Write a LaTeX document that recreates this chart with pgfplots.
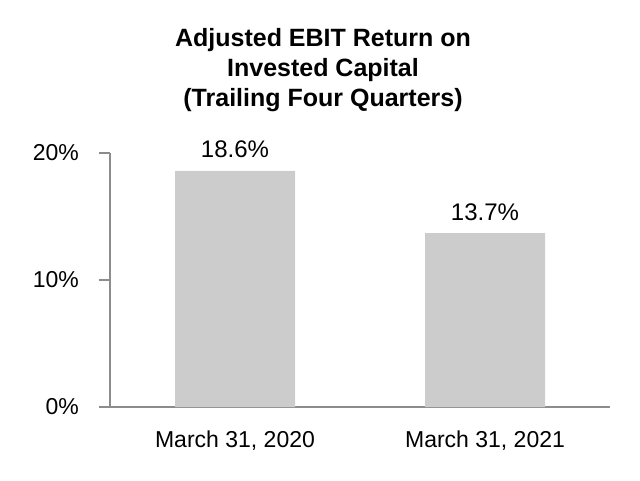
\documentclass[border=0pt]{standalone}
\usepackage{pgfplots}
\pgfplotsset{compat=1.18}
\usepackage{fontspec}
\setmainfont{Liberation Sans}
\definecolor{barg}{HTML}{CCCCCC}
\definecolor{axg}{HTML}{8C8C8C}
\begin{document}
\begin{tikzpicture}[x=1pt,y=1pt]
\begin{axis}[
  at={(0pt,0pt)}, anchor=south west,
  scale only axis,
  width=500pt, height=254pt,
  xmin=-0.5, xmax=1.5,
  ymin=0, ymax=20,
  axis x line=bottom, axis y line=left,
  axis line style={-, draw=axg, line width=1.5pt},
  xtick=data,
  xticklabels={{March 31, 2020},{March 31, 2021}},
  x tick style={draw=none},
  ytick={0,10,20},
  yticklabel={\pgfmathprintnumber{\tick}\%},
  y tick style={draw=axg, line width=1.5pt},
  tick align=outside,
  major tick length=11pt,
  /pgf/number format/assume math mode=true,
  ticklabel style={font=\fontsize{23}{27}\selectfont, text=black},
  yticklabel style={anchor=east, inner sep=0pt, xshift=-20pt},
  xticklabel style={anchor=base, inner sep=0pt, yshift=-29pt},
  ybar, bar width=120pt,
  nodes near coords={\pgfmathprintnumber[fixed,precision=1,fixed zerofill]{\pgfplotspointmeta}\%},
  every node near coord/.append style={font=\fontsize{24}{28}\selectfont, text=black, anchor=base, inner sep=0pt, yshift=13pt},
  clip=false,
]
\addplot[fill=barg, draw=none] coordinates {(0,18.6) (1,13.7)};
\end{axis}
\node[anchor=base, font=\bfseries\fontsize{25}{30}\selectfont] at (213,360) {Adjusted EBIT Return on};
\node[anchor=base, font=\bfseries\fontsize{25}{30}\selectfont] at (213,330) {Invested Capital};
\node[anchor=base, font=\bfseries\fontsize{25}{30}\selectfont] at (213,300) {(Trailing Four Quarters)};
\path (-110,-73) rectangle (530,407);
\end{tikzpicture}
\end{document}
